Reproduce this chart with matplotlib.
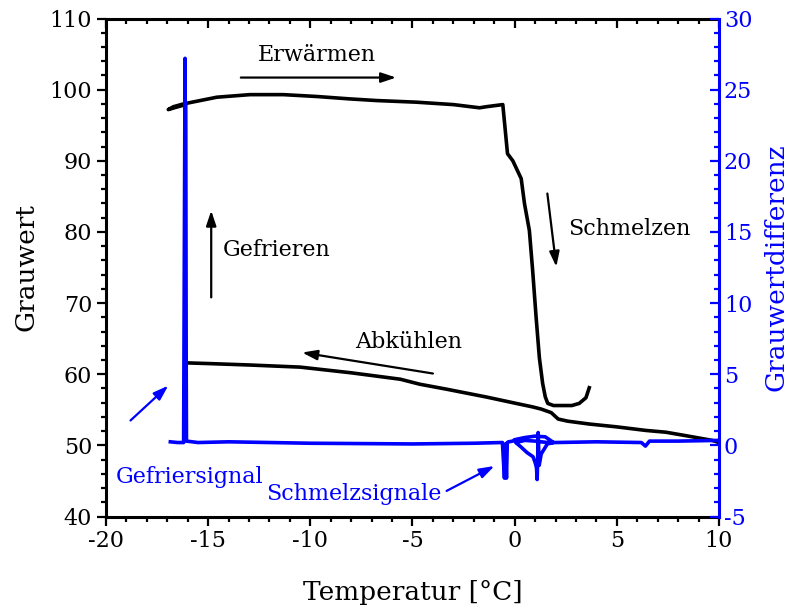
import numpy as np
import matplotlib; matplotlib.use('Agg')
import matplotlib.pyplot as plt
from matplotlib.ticker import MultipleLocator

plt.rcParams['font.family'] = ['DejaVu Serif']
plt.rcParams['axes.unicode_minus'] = False
BLUE = '#0000ff'

# Grauwert (linke Achse): Abkühlen -> Gefrieren -> Erwärmen -> Schmelzen
cool_T = [10.0, 9.67, 8.5, 7.4, 6.42, 5.0, 3.65, 2.6, 2.13, 1.79, 1.3, 0.89, 0.07,
          -1.39, -3.34, -4.65, -5.6, -8.0, -10.5, -13.0, -15.0, -16.1]
cool_G = [50.4, 50.7, 51.3, 51.85, 52.1, 52.6, 53.0, 53.4, 53.7, 54.6, 55.1, 55.4, 55.9,
          56.8, 57.9, 58.6, 59.3, 60.2, 61.0, 61.3, 61.5, 61.6]
freeze_T = [-16.1, -16.1, -16.6, -16.95, -16.7, -16.2]
freeze_G = [61.6, 97.9, 97.5, 97.2, 97.6, 98.0]
heat_T = [-14.57, -12.95, -11.32, -9.69, -8.07, -6.76, -4.81, -3.0, -1.72, -1.39, -0.58]
heat_G = [98.94, 99.3, 99.3, 99.04, 98.7, 98.47, 98.24, 97.9, 97.45, 97.6, 97.9]
melt_T = [-0.35, -0.09, 0.32, 0.48, 0.72, 0.88, 1.05, 1.21, 1.37, 1.5, 1.62, 1.9, 2.19,
          2.8, 3.16, 3.49, 3.65]
melt_G = [91.0, 90.0, 87.5, 84.0, 80.2, 74.6, 68.0, 62.3, 58.7, 56.8, 55.9, 55.6, 55.6,
          55.6, 55.9, 56.7, 58.1]

# Grauwertdifferenz (rechte Achse)
diff_T = [-16.85, -16.5, -16.2, -16.13, -16.06, -15.5, -14.0,
          -10.0, -5.0, -2.0, -0.6, -0.5, -0.45, -0.4, -0.36, -0.3, -0.1, 0.0, 0.5, 1.0, 1.5,
          1.9, 1.6, 1.3, 1.2, 1.15, 1.12, 1.1, 1.07, 1.04, 1.0, 0.9, 0.6, 0.3, 0.05, 0.5,
          1.0, 1.6, 2.0, 4.0, 6.2, 6.4, 6.6, 8.0, 10.0]
diff_V = [0.25, 0.2, 0.2, 27.2, 0.3, 0.2, 0.25,
          0.15, 0.1, 0.15, 0.2, -2.3, 0.1, -2.3, 0.2, 0.25, 0.3, 0.4, 0.55, 0.65, 0.6,
          0.2, 0.1, -0.6, -1.4, 0.9, -1.4, -2.4, -1.6, -1.4, -1.2, -0.8, -0.5, -0.1, 0.2, 0.35,
          0.3, 0.2, 0.2, 0.25, 0.2, -0.05, 0.3, 0.3, 0.35]

fig = plt.figure(figsize=(7.98, 6.13), dpi=100)
ax = fig.add_axes([0.1328, 0.1574, 0.7682, 0.8124])
ax2 = ax.twinx()

G_T = cool_T + freeze_T + heat_T + melt_T
G_V = cool_G + freeze_G + heat_G + melt_G
ax.plot(G_T, G_V, color='black', lw=2.6, solid_joinstyle='round')
ax2.plot(diff_T, diff_V, color=BLUE, lw=2.6, solid_joinstyle='round')

ax.set_xlim(-20, 10); ax.set_ylim(40, 110)
ax2.set_ylim(-5, 30)
ax.xaxis.set_major_locator(MultipleLocator(5)); ax.xaxis.set_minor_locator(MultipleLocator(1))
ax.yaxis.set_major_locator(MultipleLocator(10)); ax.yaxis.set_minor_locator(MultipleLocator(2))
ax2.yaxis.set_major_locator(MultipleLocator(5)); ax2.yaxis.set_minor_locator(MultipleLocator(1))

for s in ax.spines.values():
    s.set_linewidth(2.2)
ax.spines['right'].set_visible(False)
for k in ['left', 'top', 'bottom']:
    ax2.spines[k].set_visible(False)
ax2.spines['right'].set_color(BLUE); ax2.spines['right'].set_linewidth(2.2)

ax.tick_params(which='both', direction='out', width=1.6, labelsize=16)
ax.tick_params(which='major', length=6.5)
ax.tick_params(which='minor', length=3.5)
ax.tick_params(axis='x', which='both', top=True)
ax2.tick_params(which='both', direction='in', width=1.6, colors=BLUE, labelsize=16)
ax2.tick_params(which='major', length=6.5)
ax2.tick_params(which='minor', length=3.5)

# Ticks oben nach innen
for t in ax.xaxis.get_major_ticks() + ax.xaxis.get_minor_ticks():
    t.tick2line.set_marker(3)

ax.set_xlabel('Temperatur [°C]', fontsize=19, labelpad=20)
ax.set_ylabel('Grauwert', fontsize=19, labelpad=8)
ax2.set_ylabel('Grauwertdifferenz', fontsize=19, color=BLUE, labelpad=8)

arr = dict(arrowstyle='-|>,head_length=0.9,head_width=0.3', lw=1.6, shrinkA=0, shrinkB=0)
ax.annotate('', xy=(-5.8, 101.7), xytext=(-13.4, 101.7), arrowprops=dict(color='black', **arr))
ax.text(-9.7, 103.3, 'Erwärmen', fontsize=16, ha='center', va='bottom')
ax.annotate('', xy=(2.04, 75.1), xytext=(1.6, 85.4), arrowprops=dict(color='black', **arr))
ax.text(2.6, 80.4, 'Schmelzen', fontsize=16, ha='left', va='center')
ax.annotate('', xy=(-14.85, 83.0), xytext=(-14.85, 70.8), arrowprops=dict(color='black', **arr))
ax.text(-14.3, 77.4, 'Gefrieren', fontsize=16, ha='left', va='center')
ax.annotate('', xy=(-10.4, 63.05), xytext=(-4.0, 60.1), arrowprops=dict(color='black', **arr))
ax.text(-5.2, 64.6, 'Abkühlen', fontsize=16, ha='center', va='center')
ax.annotate('', xy=(-16.95, 58.4), xytext=(-18.8, 53.5), arrowprops=dict(color=BLUE, **arr))
ax.text(-19.5, 45.5, 'Gefriersignal', fontsize=16, color=BLUE, ha='left', va='center')
ax.annotate('', xy=(-0.99, 47.1), xytext=(-3.33, 43.6), arrowprops=dict(color=BLUE, **arr))
ax.text(-3.6, 43.1, 'Schmelzsignale', fontsize=16, color=BLUE, ha='right', va='center')

fig.savefig('out.png', dpi=100)
